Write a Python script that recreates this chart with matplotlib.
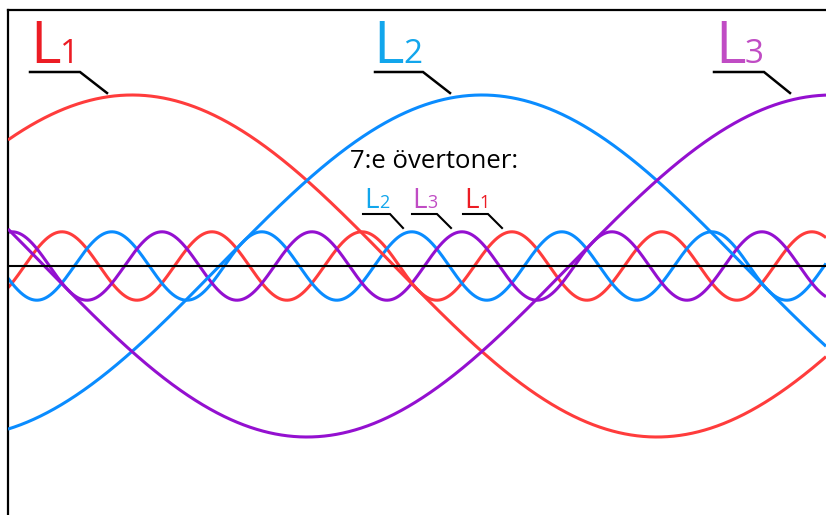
import matplotlib
matplotlib.use("Agg")
import matplotlib.pyplot as plt
import numpy as np
from matplotlib.lines import Line2D

# ── Data ─────────────────────────────────────────────────────────────────────
PHASES        = ["L1", "L2", "L3"]
LINE_COLORS   = ["#ff3c3c", "#0a8cff", "#9410d0"]
LABEL_COLORS  = ["#ec1c24", "#12a6ec", "#c04cc4"]
FUND_PEAK_DEG = [42.5, 162.5, 282.5]   # where each fundamental peaks
HARM_PEAK_DEG = [18.5, 35.6, 52.8]     # where each 7th harmonic peaks
FUND_AMP      = 1.0
HARM_AMP      = 0.2
HARM_ORDER    = 7
X_MAX_DEG     = 280.5

W, H = 826, 515
fig = plt.figure(figsize=(W / 100, H / 100), dpi=100)
fig.patch.set_facecolor("white")

# axes: left border at x=8px, top border at y=10px, runs off right/bottom
ax = fig.add_axes([8 / W, 0, (W - 8) / W, (H - 10) / H])
ax.set_xlim(0, X_MAX_DEG)
ax.set_ylim(-(H - 266) / 171, (266 - 10) / 171)
for s in ("right", "bottom"):
    ax.spines[s].set_visible(False)
for s in ("left", "top"):
    ax.spines[s].set_linewidth(1.6)
    ax.spines[s].set_color("black")
ax.set_xticks([])
ax.set_yticks([])

theta = np.linspace(0, X_MAX_DEG, 2000)
for col, hp in zip(LINE_COLORS, HARM_PEAK_DEG):
    ax.plot(theta, HARM_AMP * np.cos(np.radians(HARM_ORDER * (theta - hp))),
            color=col, lw=2.2, zorder=2, solid_capstyle="butt")
for col, fp in zip(LINE_COLORS, FUND_PEAK_DEG):
    ax.plot(theta, FUND_AMP * np.cos(np.radians(theta - fp)),
            color=col, lw=2.2, zorder=3, solid_capstyle="butt")
ax.axhline(0, color="black", lw=1.5, zorder=4)

FONT = "Open Sans"


def px(x, y):
    return x / W, 1 - y / H


def label(x, y, name, color, big, digit_dx, leader):
    """Letter L + subscript digit with baseline at (x, y) px, plus leader."""
    L_size, d_size = (42, 24) if big else (20, 13)
    fig.text(*px(x, y), "L", color=color, fontsize=L_size, family=FONT,
             ha="left", va="baseline")
    fig.text(*px(x + digit_dx, y), name[1], color=color, fontsize=d_size,
             family=FONT, ha="left", va="baseline")
    xs, ys = zip(*[px(a, b) for a, b in leader])
    fig.add_artist(Line2D(xs, ys, color="black", lw=1.8 if big else 1.5,
                          solid_joinstyle="miter"))


# big labels
label(30, 63, "L1", LABEL_COLORS[0], True, 30, [(30, 72), (80, 72), (107, 93)])
label(373, 63, "L2", LABEL_COLORS[1], True, 30, [(375, 72), (423, 72), (450, 93)])
label(715, 63, "L3", LABEL_COLORS[2], True, 30, [(714, 72), (764, 72), (790, 93)])

fig.text(*px(350, 168), "7:e övertoner:", fontsize=18.5, family=FONT,
         color="black", ha="left", va="baseline")

# small labels for harmonics
label(364, 208, "L2", LABEL_COLORS[1], False, 15, [(363, 214), (390, 214), (403, 228)])
label(412, 208, "L3", LABEL_COLORS[2], False, 15, [(412, 214), (437, 214), (451, 228)])
label(464, 208, "L1", LABEL_COLORS[0], False, 15, [(463, 214), (488, 214), (502, 228)])

fig.savefig("out.png", dpi=100, facecolor="white")
